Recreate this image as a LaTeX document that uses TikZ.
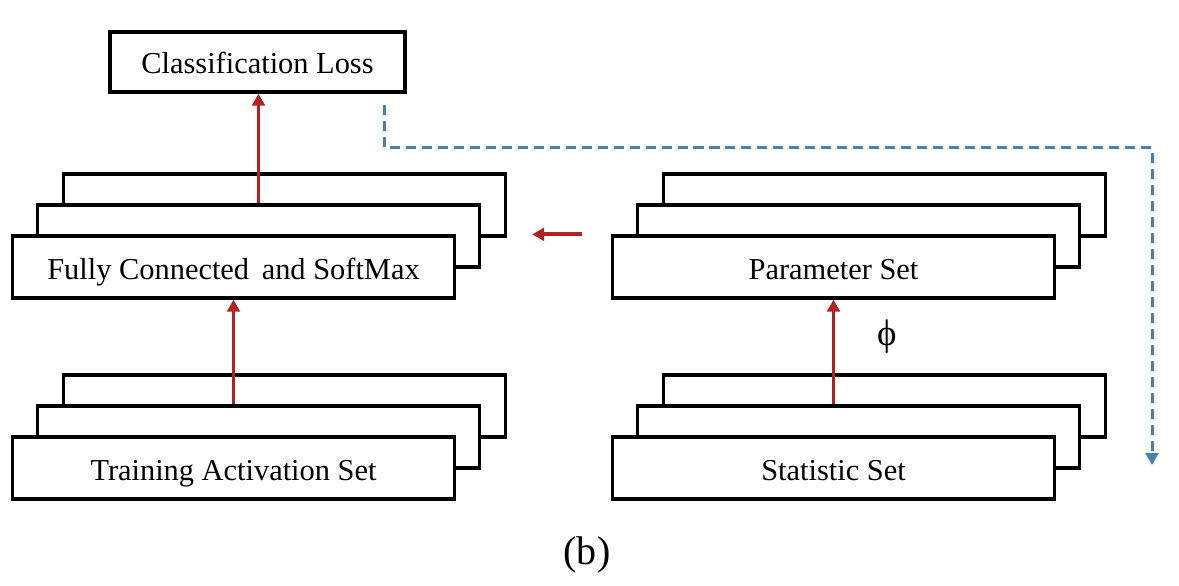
\documentclass[tikz,border=0pt]{standalone}
\usepackage{fontspec}
\setmainfont{Liberation Serif}
\usetikzlibrary{positioning, arrows.meta, calc}
\definecolor{arrowred}{RGB}{178,34,34}
\definecolor{dashblue}{RGB}{74,126,187}

\begin{document}
\begin{tikzpicture}[
        setbox/.style={draw, line width=0.95pt, fill=white, minimum width=4.42cm, minimum height=0.62cm, inner sep=0pt, text height=0.24cm, text depth=0cm, font=\fontsize{8.65}{10}\selectfont},
        lossbox/.style={setbox, minimum width=2.95cm, minimum height=0.60cm, text height=0.22cm},
        red_arrow/.style={-{Triangle[length=3.4pt, width=3.6pt]}, line width=1.1pt, color=arrowred},
        blue_arrow/.style={-{Triangle[length=3.4pt, width=3.6pt]}, line width=0.85pt, color=dashblue, dash pattern=on 2.85pt off 1.7pt},
        red_label/.style={color=black, font=\fontsize{10.5}{12}\selectfont}
    ]
    \useasboundingbox (0,0) rectangle (11.79,5.85);

    % Left column: training activations, classifier and loss
    \node[setbox] (train_back) at (2.845, 1.79) {};
    \node[setbox] (train_mid) at (2.585, 1.48) {};
    \node[setbox] (train) at (2.335, 1.17) {Training Activation Set};

    \node[setbox] (fc_back) at (2.845, 3.80) {};
    \node[setbox] (fc_mid) at (2.585, 3.49) {};
    \node[setbox] (fc) at (2.335, 3.18) {Fully Connected\, and SoftMax};

    \node[lossbox] (loss) at (2.575, 5.23) {Classification Loss};

    % Right column: statistics and generated parameters
    \node[setbox] (stat_back) at (8.845, 1.79) {};
    \node[setbox] (stat_mid) at (8.585, 1.48) {};
    \node[setbox] (stat) at (8.335, 1.17) {Statistic Set};

    \node[setbox] (param_back) at (8.845, 3.80) {};
    \node[setbox] (param_mid) at (8.585, 3.49) {};
    \node[setbox] (param) at (8.335, 3.18) {Parameter Set};

    % Free ends of the connectors
    \coordinate (feed_start) at ($(param.north west)+(-0.285,0)$);
    \coordinate (feed_end) at ($(feed_start -| fc_back.east)+(0.25,0)$);
    \coordinate (loss_start) at ($(loss.south east)+(-0.22,-0.11)$);
    \coordinate (loss_end) at (11.52, 1.20);

    % Arrows
    \draw[red_arrow] (train.north |- train_mid.north) -- (fc.south);
    \draw[red_arrow] (fc_mid.north) -- (fc_mid.north |- loss.south);
    \draw[red_arrow] (stat.north |- stat_mid.north) -- (param.south) node[pos=0.65, right=0.3cm, red_label] {ϕ};
    \draw[red_arrow] (feed_start) -- (feed_end);
    \draw[blue_arrow] (loss_start) -- ++(0,-0.43) -| (loss_end);

    \node[font=\fontsize{11.4}{13}\selectfont] (caption) at (5.87, 0.30) {(b)};
\end{tikzpicture}
\end{document}
